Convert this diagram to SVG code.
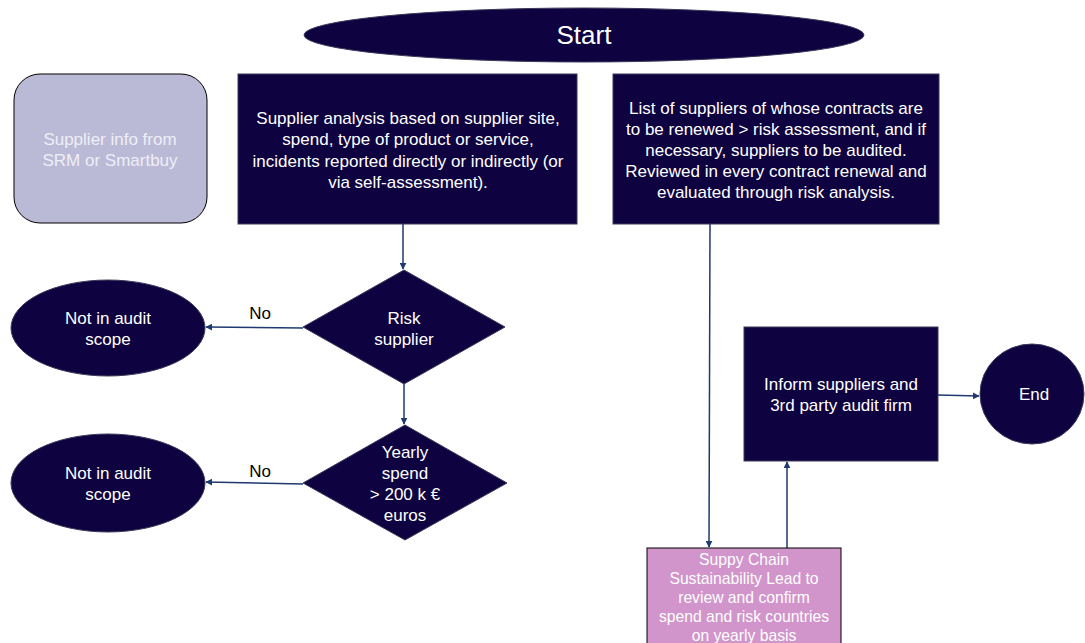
<svg xmlns="http://www.w3.org/2000/svg" width="1085" height="643" viewBox="0 0 1085 643">
  <style>
    .dark { fill: #0e0340; stroke: #3a3a5a; stroke-width: 1; }
    .t { font-family: "Liberation Sans", Arial, sans-serif; font-size: 17px; fill: #ffffff; text-anchor: middle; }
    .soft { fill: #eeeef6; }
    .small { font-size: 15.7px; }
    .lbl { font-family: "Liberation Sans", Arial, sans-serif; font-size: 17px; fill: #000000; text-anchor: middle; }
    .conn { stroke: #1f3a6e; stroke-width: 1.5; fill: none; marker-end: url(#arrow); }
  </style>
  <defs>
    <marker id="arrow" viewBox="0 0 10 10" refX="9" refY="5" markerWidth="7" markerHeight="7" orient="auto" markerUnits="userSpaceOnUse">
      <path d="M0,0 L10,5 L0,10 z" fill="#1f3a6e"/>
    </marker>
  </defs>
  <rect width="1085" height="643" fill="#ffffff"/>

  <g id="connectors">
    <line class="conn" x1="403" y1="224" x2="403" y2="269"/>
    <line class="conn" x1="303" y1="328" x2="206" y2="327"/>
    <line class="conn" x1="404" y1="384" x2="404" y2="424"/>
    <line class="conn" x1="303" y1="484" x2="206" y2="482"/>
    <line class="conn" x1="710" y1="224" x2="709" y2="547"/>
    <line class="conn" x1="787" y1="548" x2="787" y2="462"/>
    <line class="conn" x1="938" y1="395" x2="979" y2="396"/>
  </g>

  <g id="start">
    <ellipse class="dark" cx="584" cy="35" rx="280" ry="27"/>
    <text class="t" x="584" y="44" style="font-size:26px">Start</text>
  </g>

  <g id="supplier-info">
    <rect x="14" y="74" width="193" height="149" rx="26" fill="#bbbad6" stroke="#000000" stroke-width="1"/>
    <text class="t soft" x="110" y="145">Supplier info from</text>
    <text class="t soft" x="110" y="166">SRM or Smartbuy</text>
  </g>

  <g id="supplier-analysis">
    <rect class="dark" x="238" y="74" width="339" height="150"/>
    <text class="t" x="408" y="124">Supplier analysis based on supplier site,</text>
    <text class="t" x="408" y="145">spend, type of product or service,</text>
    <text class="t" x="408" y="167">incidents reported directly or indirectly (or</text>
    <text class="t" x="408" y="188">via self-assessment).</text>
  </g>

  <g id="contract-list">
    <rect class="dark" x="613" y="74" width="326" height="150"/>
    <text class="t" x="776" y="114">List of suppliers of whose contracts are</text>
    <text class="t" x="776" y="135">to be renewed &gt; risk assessment, and if</text>
    <text class="t" x="776" y="156">necessary, suppliers to be audited.</text>
    <text class="t" x="776" y="177">Reviewed in every contract renewal and</text>
    <text class="t" x="776" y="198">evaluated through risk analysis.</text>
  </g>

  <g id="risk-supplier">
    <polygon class="dark" points="404,270 505,327 404,384 303,327"/>
    <text class="t" x="404" y="324">Risk</text>
    <text class="t" x="404" y="345">supplier</text>
  </g>

  <g id="out-of-scope-1">
    <ellipse class="dark" cx="108" cy="328" rx="97" ry="48"/>
    <text class="t" x="108" y="324">Not in audit</text>
    <text class="t" x="108" y="345">scope</text>
  </g>

  <g id="yearly-spend">
    <polygon class="dark" points="405,425 507,483 405,540 303,483"/>
    <text class="t" x="405" y="458">Yearly</text>
    <text class="t" x="405" y="479">spend</text>
    <text class="t" x="405" y="500">&gt; 200 k €</text>
    <text class="t" x="405" y="521">euros</text>
  </g>

  <g id="out-of-scope-2">
    <ellipse class="dark" cx="108" cy="483" rx="97" ry="49"/>
    <text class="t" x="108" y="479">Not in audit</text>
    <text class="t" x="108" y="500">scope</text>
  </g>

  <g id="labels">
    <text class="lbl" x="260" y="319">No</text>
    <text class="lbl" x="260" y="477">No</text>
  </g>

  <g id="inform-suppliers">
    <rect class="dark" x="744" y="327" width="194" height="134"/>
    <text class="t" x="841" y="390">Inform suppliers and</text>
    <text class="t" x="841" y="411">3rd party audit firm</text>
  </g>

  <g id="end">
    <ellipse class="dark" cx="1032" cy="394" rx="52" ry="50"/>
    <text class="t" x="1034" y="400">End</text>
  </g>

  <g id="sustainability-lead">
    <rect x="647" y="548" width="194" height="110" fill="#d195cb" stroke="#000000" stroke-width="1"/>
    <text class="t small" x="744" y="565">Suppy Chain</text>
    <text class="t small" x="744" y="584">Sustainability Lead to</text>
    <text class="t small" x="744" y="603">review and confirm</text>
    <text class="t small" x="744" y="622">spend and risk countries</text>
    <text class="t small" x="744" y="641">on yearly basis</text>
  </g>
</svg>
